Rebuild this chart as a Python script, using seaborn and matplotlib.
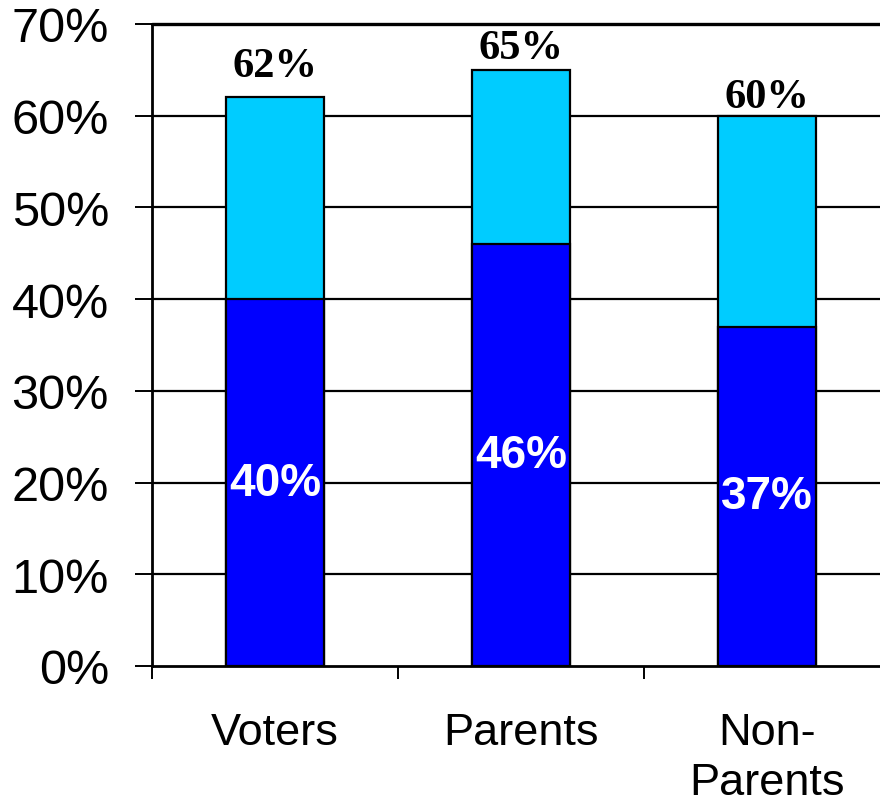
import matplotlib
matplotlib.use("Agg")
import matplotlib.pyplot as plt
import seaborn as sns
import pandas as pd

# Survey results by group
groups = ["Voters", "Parents", "Non-\nParents"]
total_pct = [62, 65, 60]
strong_pct = [40, 46, 37]
y_ticks = [0, 10, 20, 30, 40, 50, 60, 70]

# gap (points) between each total label and its bar top
total_label_gap = [8.7, 2.4, -0.4]

sns.set_theme(style="white")
plt.rcParams["font.family"] = ["Liberation Sans", "DejaVu Sans"]

df = pd.DataFrame({"group": groups, "total": total_pct, "strong": strong_pct})

fig = plt.figure(figsize=(8.8, 8.04), dpi=100)
ax = fig.add_axes([152 / 880, 137 / 804, 738 / 880, 642 / 804])

sns.barplot(data=df, x="group", y="total", color="#00CCFF", width=0.4,
            edgecolor="black", linewidth=1.6, saturation=1, ax=ax, zorder=3)
sns.barplot(data=df, x="group", y="strong", color="#0000FF", width=0.4,
            edgecolor="black", linewidth=1.6, saturation=1, ax=ax, zorder=3)

ax.set_ylim(0, 70)
ax.set_xlim(-0.5, 2.5)
ax.set_yticks(y_ticks)
ax.set_yticklabels([f"{v}%" for v in y_ticks])
ax.set_xlabel("")
ax.set_ylabel("")

# horizontal gridlines
for v in y_ticks[1:]:
    ax.axhline(v, color="black", linewidth=1.6 if v < 70 else 2.4, zorder=1,
               clip_on=False)

# category ticks between groups
ax.set_xticks([-0.5, 0.5, 1.5], minor=True)
ax.tick_params(axis="x", which="minor", length=9.5, width=1.4, color="black",
               direction="out", bottom=True)
ax.tick_params(axis="x", which="major", length=0, pad=33, labelsize=32.5,
               labelcolor="black")
ax.tick_params(axis="y", which="major", length=12, width=1.4, color="black",
               direction="out", left=True, pad=19, labelsize=35,
               labelcolor="black")
for lab in ax.get_xticklabels():
    lab.set_linespacing(1.28)

for side in ["top", "right"]:
    ax.spines[side].set_visible(False)
for side in ["left", "bottom"]:
    ax.spines[side].set_color("black")
    ax.spines[side].set_linewidth(2)
    ax.spines[side].set_zorder(4)

# value labels
for i, (tot, strong, gap) in enumerate(zip(total_pct, strong_pct, total_label_gap)):
    ax.annotate(f"{tot}%", xy=(i, tot), xytext=(0, gap), textcoords="offset points",
                ha="center", va="bottom", fontsize=30.5, fontweight="bold",
                family=["Liberation Serif", "DejaVu Serif"], color="black", zorder=5)
    ax.text(i, strong / 2, f"{strong}%", ha="center", va="center", fontsize=33,
            fontweight="bold", color="white", zorder=5)

fig.savefig("out.png", dpi=100)
